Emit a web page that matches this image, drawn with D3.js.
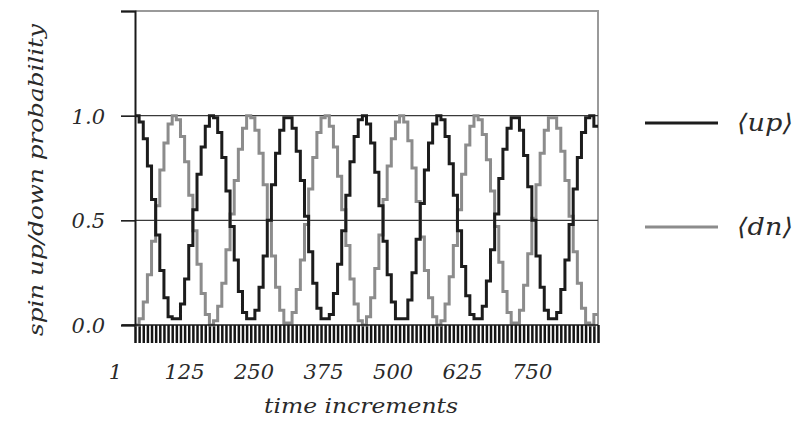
<!DOCTYPE html>
<html>
<head>
<meta charset="utf-8">
<script src="https://cdn.jsdelivr.net/npm/d3@7"></script>
<style>
  html, body { margin: 0; padding: 0; background: #fff; }
  svg { display: block; }
  svg text { font-family: "DejaVu Serif", "Liberation Serif", serif; font-style: italic; fill: #2a2a2a; }
</style>
</head>
<body>
<svg id="chart" width="808" height="422"></svg>
<script>
// Probability of spin up / spin down, sampled once per step of time increments
const up = [1.00,0.97,0.89,0.76,0.60,0.43,0.26,0.13,0.04,0.03,0.03,0.10,0.22,0.38,0.55,0.72,0.85,0.95,1.00,0.99,
            0.92,0.80,0.64,0.47,0.31,0.16,0.06,0.03,0.03,0.07,0.18,0.33,0.50,0.67,0.82,0.93,0.99,0.99,0.94,0.83,
            0.69,0.52,0.35,0.20,0.08,0.03,0.03,0.05,0.15,0.29,0.45,0.62,0.78,0.90,0.98,1.00,0.96,0.87,0.73,0.57,
            0.40,0.24,0.11,0.03,0.03,0.03,0.12,0.25,0.41,0.58,0.74,0.87,0.96,1.00,0.98,0.90,0.77,0.62,0.45,0.28,
            0.14,0.05,0.03,0.03,0.09,0.21,0.36,0.53,0.70,0.84,0.94,0.99,0.99,0.93,0.81,0.66,0.50,0.33,0.18,0.07,
            0.03,0.03,0.06,0.17,0.31,0.48,0.65,0.80,0.92,0.99,1.00,0.95];
const dn = [0.00,0.03,0.11,0.24,0.40,0.57,0.74,0.87,0.96,1.00,0.98,0.90,0.78,0.62,0.45,0.29,0.15,0.05,0.00,0.02,
            0.09,0.20,0.36,0.53,0.69,0.84,0.94,1.00,0.99,0.93,0.82,0.67,0.50,0.33,0.18,0.07,0.01,0.01,0.06,0.17,
            0.31,0.48,0.65,0.80,0.92,0.99,1.00,0.95,0.85,0.71,0.55,0.38,0.22,0.10,0.02,0.00,0.04,0.13,0.27,0.43,
            0.60,0.76,0.89,0.97,1.00,0.97,0.88,0.75,0.59,0.42,0.26,0.13,0.04,0.00,0.02,0.10,0.23,0.38,0.55,0.72,
            0.86,0.95,1.00,0.98,0.91,0.79,0.64,0.47,0.30,0.16,0.06,0.01,0.01,0.07,0.19,0.34,0.51,0.67,0.82,0.93,
            0.99,0.99,0.94,0.83,0.69,0.52,0.35,0.20,0.08,0.01,0.00,0.05];

const xTickValues = [1, 125, 250, 375, 500, 625, 750];
const yTickValues = [0, 0.5, 1.0, 1.5];
const yLabelled = [0, 0.5, 1.0];
const gridValues = [0.5, 1.0];
const seriesNames = ["up", "dn"];
const seriesColors = ["#1c1c1c", "#8c8c8c"];

// time axis: each sample covers a fixed number of time increments
const timeStart = 37;
const timePerStep = 7.43;
const nSteps = up.length;
const timeEnd = timeStart + nSteps * timePerStep;

const svg = d3.select("#chart");
const plot = { left: 135, right: 598, top: 11, bottom: 325 };

const x = d3.scaleLinear().domain([timeStart, timeEnd]).range([plot.left, plot.right]);
const y = d3.scaleLinear().domain([0, 1.5]).range([plot.bottom, plot.top]);
const tAt = i => timeStart + i * timePerStep;

const fontSerif = "'DejaVu Serif', 'Liberation Serif', serif";

// frame: grey top and right edges
svg.append("path")
  .attr("d", `M${plot.left},${plot.top}H${plot.right}V${plot.bottom}`)
  .attr("fill", "none").attr("stroke", "#9a9a9a").attr("stroke-width", 2);

// horizontal reference lines
svg.append("g").selectAll("line").data(gridValues).join("line")
  .attr("x1", plot.left).attr("x2", plot.right)
  .attr("y1", d => y(d)).attr("y2", d => y(d))
  .attr("stroke", "#3a3a3a").attr("stroke-width", 1.3);

// comb of ticks, one per sample
const combAxis = d3.axisBottom(x)
  .tickValues(d3.range(nSteps + 1).map(tAt))
  .tickSize(18).tickFormat("");
const comb = svg.append("g").attr("transform", `translate(0,${plot.bottom})`).call(combAxis);
comb.select(".domain").remove();
comb.selectAll(".tick line").attr("stroke", "#151515").attr("stroke-width", 2.5);

// step lines for the two probabilities (grey drawn first, black on top)
const line = d3.line()
  .x(d => x(d[0])).y(d => y(d[1]))
  .curve(d3.curveStepAfter);
[[dn, 1], [up, 0]].forEach(([vals, k]) => {
  const pts = vals.map((v, i) => [tAt(i), v]);
  pts.push([timeEnd, vals[vals.length - 1]]);
  svg.append("path").datum(pts)
    .attr("d", line)
    .attr("fill", "none")
    .attr("stroke", seriesColors[k])
    .attr("stroke-width", 3)
    .attr("stroke-linejoin", "miter");
});

// bottom axis line
svg.append("line")
  .attr("x1", 122).attr("x2", plot.right)
  .attr("y1", plot.bottom).attr("y2", plot.bottom)
  .attr("stroke", "#1a1a1a").attr("stroke-width", 1.6);

// left axis
const yAxis = d3.axisLeft(y).tickValues(yTickValues).tickSize(14)
  .tickFormat(d => yLabelled.includes(d) ? d3.format(".1f")(d) : "");
const gy = svg.append("g").attr("transform", `translate(${plot.left},0)`).call(yAxis);
gy.select(".domain").attr("stroke", "#1a1a1a").attr("stroke-width", 2);
gy.selectAll(".tick line").attr("stroke", "#1a1a1a").attr("stroke-width", 1.6);
gy.selectAll(".tick text")
  .attr("x", -30).attr("dy", "0.36em")
  .style("font-family", fontSerif).style("font-style", "italic")
  .style("font-size", "21px").attr("fill", "#333");

// bottom tick labels
const xAxis = d3.axisBottom(x).tickValues(xTickValues).tickSize(0).tickFormat(d3.format("d"));
const gx = svg.append("g").attr("transform", `translate(0,${plot.bottom})`).call(xAxis);
gx.select(".domain").remove();
gx.selectAll(".tick text")
  .attr("y", 54).attr("dy", 0)
  .style("font-family", fontSerif).style("font-style", "italic")
  .style("font-size", "21px").attr("fill", "#333");

// axis titles
svg.append("text")
  .attr("x", 361).attr("y", 413).attr("text-anchor", "middle")
  .attr("textLength", 194).attr("lengthAdjust", "spacingAndGlyphs")
  .style("font-family", fontSerif).style("font-size", "20px").text("time increments");
svg.append("text")
  .attr("transform", "translate(43,180) rotate(-90)")
  .attr("text-anchor", "middle")
  .attr("textLength", 312).attr("lengthAdjust", "spacingAndGlyphs")
  .style("font-family", fontSerif).style("font-size", "20px").text("spin up/down probability");

// legend
const legendY = [123, 227];
const legend = svg.append("g").selectAll("g").data(seriesNames).join("g")
  .attr("transform", (d, i) => `translate(645,${legendY[i]})`);
legend.append("line").attr("x1", 0).attr("x2", 73).attr("y1", 0).attr("y2", 0)
  .attr("stroke", (d, i) => seriesColors[i]).attr("stroke-width", 3);
legend.append("text").attr("x", 92).attr("y", 0).attr("dy", "0.32em")
  .attr("textLength", 56).attr("lengthAdjust", "spacingAndGlyphs")
  .style("font-family", fontSerif).style("font-size", "24px")
  .text(d => "\u27E8" + d + "\u27E9");
</script>
</body>
</html>
